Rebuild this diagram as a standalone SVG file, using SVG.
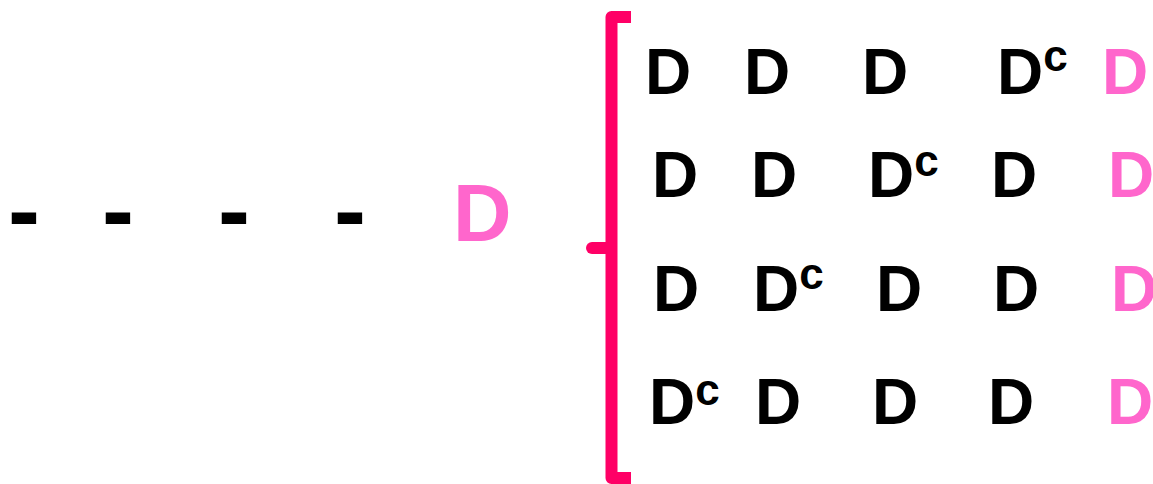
<svg xmlns="http://www.w3.org/2000/svg" width="1153" height="484" viewBox="0 0 1153 484">
<style>
text{font-family:"Liberation Sans",Arial,sans-serif;font-weight:bold}
.k{fill:#000;font-size:64px}
.p{fill:#FF66CC;font-size:64px}
.s{font-size:44px}
.h{fill:#000;font-size:96px}
</style>
<rect width="1153" height="484" fill="#fff"/>
<g id="dashes">
<text class="h" x="8" y="243">-</text>
<text class="h" x="102" y="243">-</text>
<text class="h" x="218" y="243">-</text>
<text class="h" x="334" y="243">-</text>
</g>
<g id="lhs"><text x="453" y="241" style="fill:#FF66CC;font-size:81px">D</text></g>
<g id="connectors">
<path d="M631,17 H611.5 V478 H631" fill="none" stroke="#FF0066" stroke-width="12" stroke-linejoin="round"/>
<path d="M592,248 H611" fill="none" stroke="#FF0066" stroke-width="12" stroke-linecap="round"/>
</g>
<g id="row1">
<text class="k" x="645" y="94">D</text>
<text class="k" x="744" y="94">D</text>
<text class="k" x="862" y="94">D</text>
<text class="k" x="997" y="94">D<tspan class="s" dy="-23">c</tspan></text>
<text class="p" x="1102" y="94">D</text>
</g>
<g id="row2">
<text class="k" x="652" y="197">D</text>
<text class="k" x="751" y="197">D</text>
<text class="k" x="868" y="197">D<tspan class="s" dy="-21">c</tspan></text>
<text class="k" x="991" y="197">D</text>
<text class="p" x="1108" y="197">D</text>
</g>
<g id="row3">
<text class="k" x="653" y="311">D</text>
<text class="k" x="753" y="311">D<tspan class="s" dy="-22">c</tspan></text>
<text class="k" x="876" y="311">D</text>
<text class="k" x="993" y="311">D</text>
<text class="p" x="1111" y="311">D</text>
</g>
<g id="row4">
<text class="k" x="649" y="424">D<tspan class="s" dy="-19">c</tspan></text>
<text class="k" x="755" y="424">D</text>
<text class="k" x="872" y="424">D</text>
<text class="k" x="988" y="424">D</text>
<text class="p" x="1107" y="424">D</text>
</g>
</svg>
